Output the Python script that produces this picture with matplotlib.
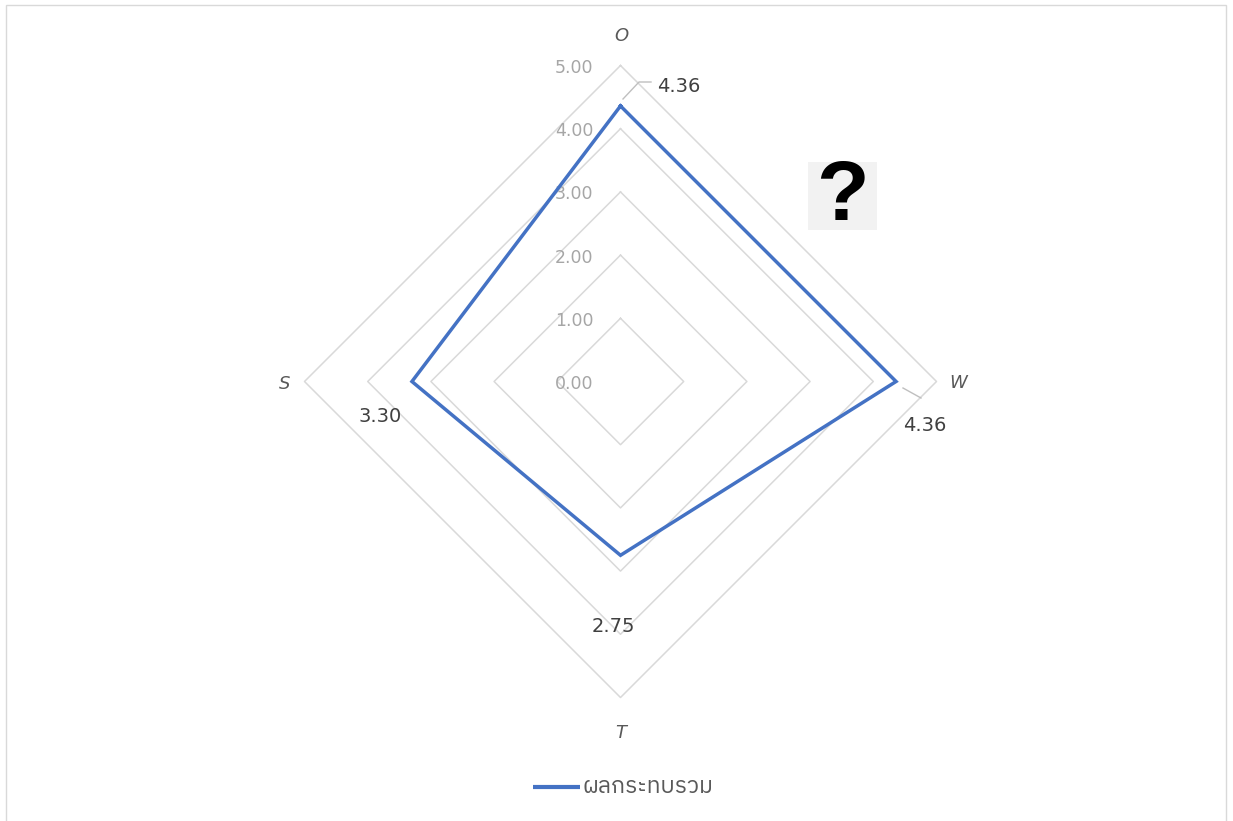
import numpy as np
import matplotlib
matplotlib.use("Agg")
import matplotlib.pyplot as plt

# ---- data ----
categories = ["O", "W", "T", "S"]
values = [4.36, 4.36, 2.75, 3.30]
value_labels = ["4.36", "4.36", "2.75", "3.30"]
levels = [0, 1, 2, 3, 4, 5]
level_labels = ["0.00", "1.00", "2.00", "3.00", "4.00", "5.00"]
series_name = "ผลกระทบรวม"

W, H = 1233, 821
cx, cy = 620.5, 381.5
s = 316.0 / 5.0

fig = plt.figure(figsize=(W / 100, H / 100), dpi=100)
ax = fig.add_axes([0, 0, 1, 1])
ax.set_xlim(-cx / s, (W - cx) / s)
ax.set_ylim(-(H - cy) / s, cy / s)
ax.axis("off")


def px(x, y):
    return (x - cx) / s, (cy - y) / s


n = len(categories)
angles = np.arange(n) * 2 * np.pi / n
sx, cy_ = np.sin(angles), np.cos(angles)

grid_c = "#d9d9d9"
for lv in levels[1:]:
    xs = np.append(lv * sx, lv * sx[0])
    ys = np.append(lv * cy_, lv * cy_[0])
    ax.plot(xs, ys, color=grid_c, lw=1.1, zorder=1)

vals = np.array(values)
ax.plot(np.append(vals * sx, vals[0] * sx[0]), np.append(vals * cy_, vals[0] * cy_[0]),
        color="#4472C4", lw=2.5, zorder=3, solid_joinstyle="miter")

# radial tick labels
lx, _ = px(574, 0)
for lv, lab in zip(levels, level_labels):
    ax.text(lx, lv - 0.04, lab, ha="center", va="center", fontsize=12.5, color="#a6a6a6", zorder=2)

# category labels
cat_pos = [(621, 36), (958, 383), (621, 733), (285, 384)]
for lab, (x, y) in zip(categories, cat_pos):
    ax.text(*px(x, y), lab, ha="center", va="center", fontsize=13, color="#595959", style="italic")

# data labels
dl_pos = [(679, 86), (925, 425), (380, 416), (613, 626)]
dl_idx = [0, 1, 3, 2]
for (x, y), i in zip(dl_pos, dl_idx):
    ax.text(*px(x, y), value_labels[i], ha="center", va="center", fontsize=14, color="#404040")

# leader lines
for pts in ([(623, 99), (639, 82), (651, 82)], [(903, 388), (921, 398)]):
    ax.plot([px(*p)[0] for p in pts], [px(*p)[1] for p in pts], color="#bfbfbf", lw=1.0, zorder=2)

# question mark picture
qx0, qy0 = px(808, 230)
ax.add_patch(plt.Rectangle((qx0, qy0), 69 / s, 68 / s, facecolor="#f2f2f2", edgecolor="none", zorder=2))
ax.text(*px(842, 198), "?", ha="center", va="center", fontsize=62, fontweight="bold",
        family="Liberation Sans", color="black", zorder=3)

# legend
ax.plot([px(533, 0)[0], px(580, 0)[0]], [px(0, 787)[1]] * 2, color="#4472C4", lw=3, solid_capstyle="butt")
ax.text(*px(583, 787), series_name, ha="left", va="center", fontsize=16.5, color="#595959",
        family=["IBM Plex Sans Thai", "Anuphan", "DejaVu Sans"])

# border
ax.add_patch(plt.Rectangle(px(6, 830), (1226 - 6) / s, (830 - 5) / s, facecolor="none",
                           edgecolor="#d9d9d9", lw=1.0, zorder=0))

fig.savefig("out.png", dpi=100)
